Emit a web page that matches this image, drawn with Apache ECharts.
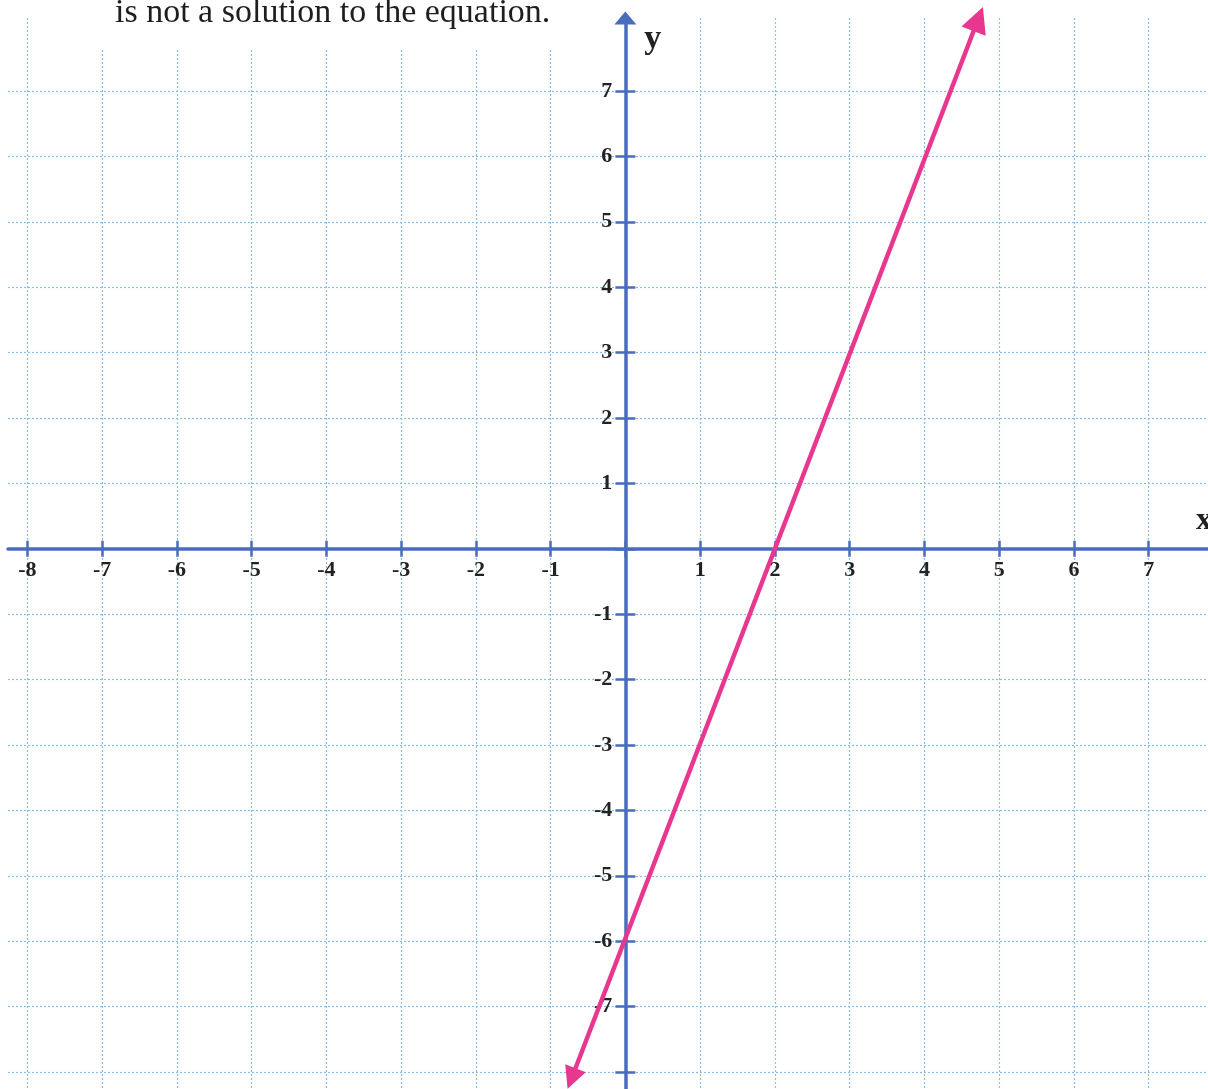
<!DOCTYPE html>
<html>
<head>
<meta charset="utf-8">
<script src="https://cdn.jsdelivr.net/npm/echarts@6/dist/echarts.min.js"></script>
<style>
  html, body { margin: 0; padding: 0; background: #ffffff; }
  #chart { width: 1208px; height: 1089px; }
</style>
</head>
<body>
<div id="chart"></div>
<script>
// Caption fragment shown above the grid
const captionText = 'is not a solution to the equation.';

// Integer grid positions and the numbers printed next to the axes
const xTicks = [-8, -7, -6, -5, -4, -3, -2, -1, 0, 1, 2, 3, 4, 5, 6, 7];
const yTicks = [-8, -7, -6, -5, -4, -3, -2, -1, 0, 1, 2, 3, 4, 5, 6, 7];
const xLabels = [-8, -7, -6, -5, -4, -3, -2, -1, 1, 2, 3, 4, 5, 6, 7];
const yLabels = [-7, -6, -5, -4, -3, -2, -1, 1, 2, 3, 4, 5, 6, 7];

// The graphed line y = 3x - 6, drawn between its two arrow ends
const lineX = [-0.72, 4.72];
const lineY = [-8.1, 8.1];

// Visible window of the plane
const xRange = [-8.258, 7.927];
const yRange = [-8.26, 8.116];

const AXIS_BLUE = '#4a6cbd';
const GRID_BLUE = '#8abde6';
const PINK = '#e8378e';
const SERIF = '"Liberation Serif", "DejaVu Serif", serif';
const LABEL_GAP_X = 11;   // gap between the x axis line and its numbers
const LABEL_GAP_Y = 13;   // gap between the y axis line and its numbers

const chart = echarts.init(document.getElementById('chart'), null, { renderer: 'canvas' });

const tickStyle = { color: AXIS_BLUE, width: 2.5 };
const gridStyle = { color: GRID_BLUE, width: 1.2, type: [2, 2] };
const labelText = { fontFamily: SERIF, fontSize: 22, fontWeight: 'bold', color: '#222222' };

const option = {
  animation: false,
  backgroundColor: '#ffffff',
  title: {
    text: captionText,
    left: 87,
    top: -10,
    padding: [6, 28, 20, 28],
    backgroundColor: '#ffffff',
    textStyle: { fontFamily: SERIF, fontSize: 34, fontWeight: 'normal', color: '#1e1e1e' }
  },
  grid: {
    left: 8, right: -10, top: 18, bottom: 0,
    containLabel: false,
    outerBoundsMode: 'none'
  },
  xAxis: [
    {
      type: 'value', min: xRange[0], max: xRange[1],
      position: 'bottom',
      name: 'x',
      nameLocation: 'end',
      nameGap: -22,
      nameMoveOverlap: false,
      nameTextStyle: {
        fontFamily: SERIF, fontSize: 32, fontWeight: 'bold', color: '#222',
        align: 'left', verticalAlign: 'bottom', padding: [0, 0, 12, 0]
      },
      axisLine: {
        show: true, onZero: true, onZeroAxisIndex: 0,
        symbol: ['none', 'triangle'], symbolSize: [20, 13],
        lineStyle: { color: AXIS_BLUE, width: 3.5 }
      },
      axisTick: { show: true, length: 8, customValues: xTicks, lineStyle: tickStyle },
      axisLabel: Object.assign({ show: true, margin: LABEL_GAP_X, customValues: xLabels }, labelText),
      splitLine: { show: true, lineStyle: gridStyle }
    },
    {
      // upper half of the crossing tick marks
      type: 'value', min: xRange[0], max: xRange[1],
      position: 'top',
      axisLine: { show: false, onZero: true, onZeroAxisIndex: 0 },
      axisTick: { show: true, length: 8, customValues: xTicks, lineStyle: tickStyle },
      axisLabel: { show: false },
      splitLine: { show: false }
    }
  ],
  yAxis: [
    {
      type: 'value', min: yRange[0], max: yRange[1],
      position: 'left',
      name: 'y',
      nameLocation: 'end',
      nameGap: -38,
      nameMoveOverlap: false,
      nameTextStyle: {
        fontFamily: SERIF, fontSize: 34, fontWeight: 'bold', color: '#222',
        align: 'left', verticalAlign: 'bottom', padding: [0, 0, 0, 19]
      },
      axisLine: {
        show: true, onZero: true, onZeroAxisIndex: 0,
        symbol: ['none', 'triangle'], symbolSize: [22, 13],
        lineStyle: { color: AXIS_BLUE, width: 3.5 }
      },
      axisTick: { show: true, length: 10, customValues: yTicks, lineStyle: tickStyle },
      axisLabel: Object.assign({ show: true, margin: LABEL_GAP_Y, customValues: yLabels }, labelText),
      splitLine: { show: true, lineStyle: gridStyle }
    },
    {
      // right half of the crossing tick marks
      type: 'value', min: yRange[0], max: yRange[1],
      position: 'right',
      axisLine: { show: false, onZero: true, onZeroAxisIndex: 0 },
      axisTick: { show: true, length: 10, customValues: yTicks, lineStyle: tickStyle },
      axisLabel: { show: false },
      splitLine: { show: false }
    }
  ],
  series: [
    {
      type: 'lines',
      coordinateSystem: 'cartesian2d',
      xAxisIndex: 0,
      yAxisIndex: 0,
      clip: false,
      z: 5,
      symbol: ['triangle', 'triangle'],
      symbolSize: [22, 26],
      lineStyle: { color: PINK, width: 4.5, opacity: 1 },
      itemStyle: { color: PINK },
      data: [
        { coords: [[lineX[0], lineY[0]], [lineX[1], lineY[1]]] }
      ]
    }
  ]
};

chart.setOption(option);

// Numbers are laid out from the grid edge; shift them so they sit beside the
// axes that cross at the origin.
const zeroPx = chart.convertToPixel({ xAxisIndex: 0 }, 0);
const zeroPy = chart.convertToPixel({ yAxisIndex: 0 }, 0);
const leftEdge = chart.convertToPixel({ xAxisIndex: 0 }, xRange[0]);
const bottomEdge = chart.convertToPixel({ yAxisIndex: 0 }, yRange[0]);

chart.setOption({
  xAxis: [{ axisLabel: { margin: (zeroPy + LABEL_GAP_X) - bottomEdge } }, {}],
  yAxis: [{ axisLabel: { margin: leftEdge - (zeroPx - LABEL_GAP_Y) } }, {}]
});
</script>
</body>
</html>
